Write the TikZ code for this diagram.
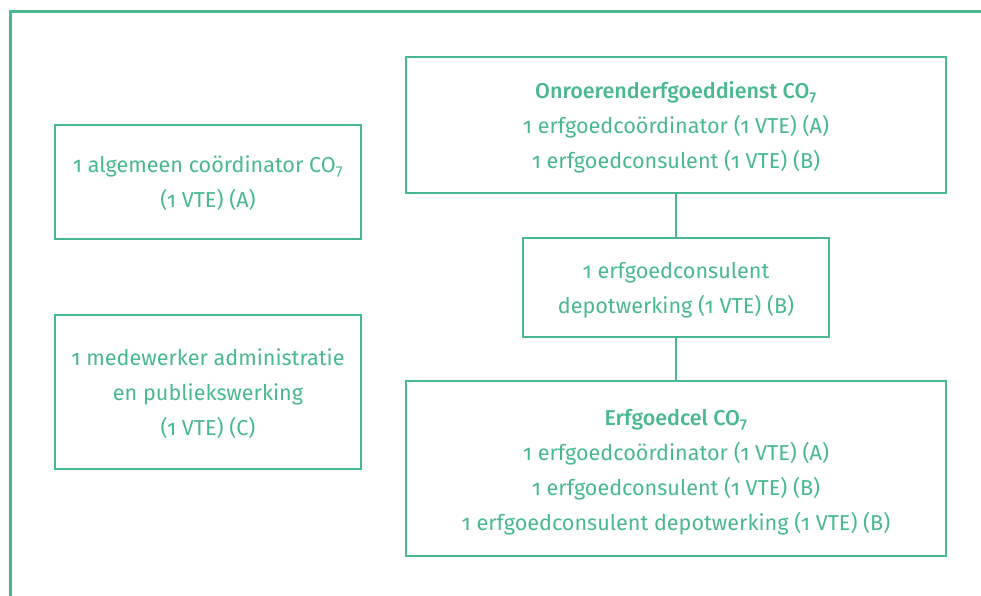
\documentclass[tikz,border=0pt]{standalone}
\usepackage{fontspec}
\setmainfont{Fira Sans}[BoldFont={Fira Sans Medium}, Numbers=OldStyle]
\definecolor{grn}{RGB}{72,184,142}
\newcommand{\ttl}[1]{{\fontsize{21.5}{35}\selectfont\bfseries #1}}
\newcommand{\tstr}{\rule{0pt}{22pt}}
\begin{document}
\begin{tikzpicture}[x=1pt,y=-1pt,
  box/.style={draw=grn, text=grn, align=center, inner sep=0pt, font=\fontsize{21.6}{35}\selectfont},
  thick box/.style={box, line width=2.6pt},
  thin box/.style={box, line width=1.4pt},
  conn/.style={draw=grn, line width=1.2pt}]
\useasboundingbox (0,0) rectangle (981,596);
\coordinate (fb) at (10,597);
\coordinate (fc) at (10,12);
\coordinate (fr) at (982,12);
\draw[grn, line width=3pt] (fb) -- (fc) -- (fr);
\node[thick box, minimum width=540pt, minimum height=136pt] (oed) at (676,125)
  {\tstr\ttl{Onroerenderfgoeddienst CO\textsubscript{7}}\\1 erfgoedcoördinator (1 VTE) (A)\\1 erfgoedconsulent (1 VTE) (B)};
\node[thin box, minimum width=306pt, minimum height=114pt] (alg) at (208,182)
  {\rule{0pt}{19.5pt}1 algemeen coördinator CO\textsubscript{7}\\(1 VTE) (A)};
\node[thin box, minimum width=306pt, minimum height=154pt] (adm) at (208,392)
  {\rule{0pt}{20pt}1 medewerker administratie\\en publiekswerking\\(1 VTE) (C)};
\node[thin box, minimum width=306pt, minimum height=99pt] (dep) at (676,287.5)
  {\tstr 1 erfgoedconsulent\\depotwerking (1 VTE) (B)};
\node[thick box, minimum width=540pt, minimum height=175pt] (cel) at (676,468.5)
  {\rule{0pt}{24pt}\ttl{Erfgoedcel CO\textsubscript{7}}\\1 erfgoedcoördinator (1 VTE) (A)\\1 erfgoedconsulent (1 VTE) (B)\\1 erfgoedconsulent depotwerking (1 VTE) (B)};
\draw[conn] (oed.south) -- (dep.north);
\draw[conn] (dep.south) -- (cel.north);
\end{tikzpicture}
\end{document}
